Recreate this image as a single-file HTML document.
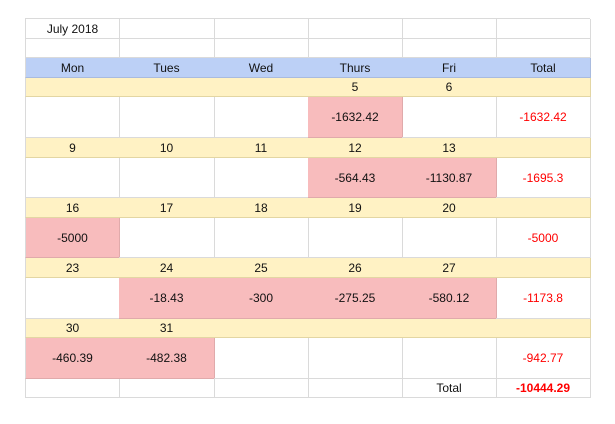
<!DOCTYPE html>
<html><head><style>
body{margin:0;width:615px;height:424px;background:#fff;font-family:"Liberation Sans",Arial,sans-serif;font-size:12px;position:relative;overflow:hidden}
.c{position:absolute;box-sizing:border-box;display:flex;align-items:center;justify-content:center;border-right:1px solid #dadada;border-bottom:1px solid #dadada;color:#111}
.y{background:#fff2c4;border-color:#e3d6a3}
.b{background:#bcd0f6;border-color:#a9bbdf}
.r{background:#f8bcbd;border-color:#e0aaab}
.red{color:#f00}
.bold{font-weight:bold}
</style></head><body>
<div id="g"></div>
<script>
const X=[25,119,214,308,402,496,590];
const rows=[
[18,38,'w',['July 2018','','','','','']],
[38,57,'w',['','','','','','']],
[57,77,'b',['Mon','Tues','Wed','Thurs','Fri','Total']],
[77,96,'y',['','','','5','6','']],
[96,137,'w',['','','','-1632.42','','-1632.42'],[3]],
[137,157,'y',['9','10','11','12','13','']],
[157,197,'w',['','','','-564.43','-1130.87','-1695.3'],[3,4]],
[197,217,'y',['16','17','18','19','20','']],
[217,257,'w',['-5000','','','','','-5000'],[0]],
[257,277,'y',['23','24','25','26','27','']],
[277,318,'w',['','-18.43','-300','-275.25','-580.12','-1173.8'],[1,2,3,4]],
[318,337,'y',['30','31','','','','']],
[337,378,'w',['-460.39','-482.38','','','','-942.77'],[0,1]],
[378,397,'w',['','','','','Total','-10444.29']]
];
let h='<div style="position:absolute;left:25px;top:18px;width:565px;height:1px;background:#dadada"></div><div style="position:absolute;left:25px;top:18px;width:1px;height:379px;background:#dadada"></div>';
rows.forEach((r,ri)=>{
 for(let i=0;i<6;i++){
  let cls='c';
  if(r[2]=='y')cls+=' y';else if(r[2]=='b')cls+=' b';
  if(r[4]&&r[4].includes(i))cls+=' r';
  if(i==5&&r[2]=='w'&&r[3][5])cls+=' red';
  if(ri==13&&i==5)cls+=' bold';
  const l=i==0?26:X[i]+1;
  h+=`<div class="${cls}" style="left:${X[i]}px;top:${r[0]+1}px;width:${X[i+1]-X[i]+1}px;height:${r[1]-r[0]}px;${i==0?'border-left:1px solid #dadada;':''}">${r[3][i]}</div>`;
 }
});
document.getElementById('g').innerHTML=h;
</script>
</body></html>
